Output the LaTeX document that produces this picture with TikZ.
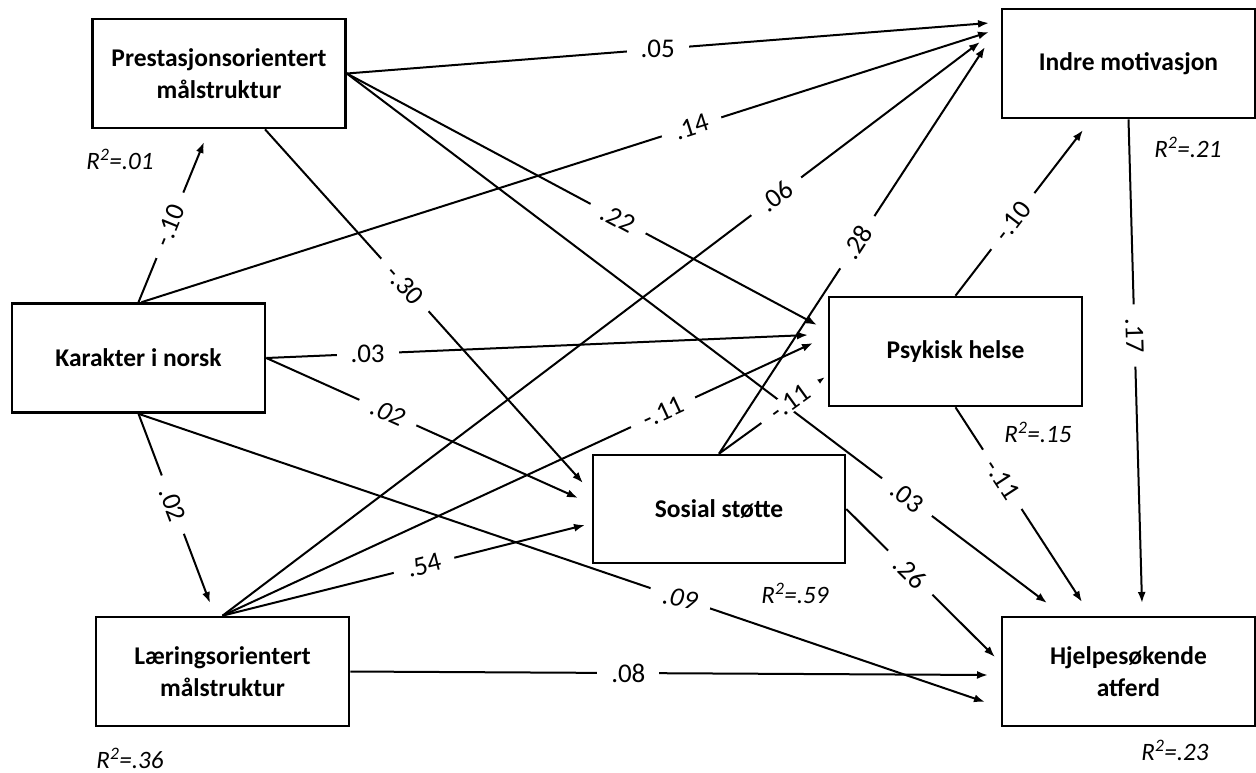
\documentclass[tikz,border=0pt]{standalone}
\usepackage{fontspec}
\setmainfont{Carlito}
\usetikzlibrary{arrows.meta}
\begin{document}
\begin{tikzpicture}[x=1pt,y=-1pt,
  box/.style={draw,line width=2.6pt,inner sep=0pt,align=center,
    font=\fontsize{25.5}{32}\selectfont\bfseries,
    minimum width=253pt,minimum height=109pt},
  conn/.style={line width=2pt,-{Latex[length=11pt,width=8pt]}},
  lbl/.style={fill=white,inner xsep=14pt,inner ysep=1pt,font=\fontsize{27}{30}\selectfont},
  lbli/.style={lbl,font=\fontsize{27}{30}\selectfont\itshape},
  rsq/.style={font=\fontsize{25}{28}\selectfont\itshape,inner sep=0pt}]
\fill[white] (0,0) rectangle (1256,772);
\useasboundingbox (0,0) rectangle (1256,772);

% boxes
\node[box] (prest) at (219,73.5) {Prestasjonsorientert\\målstruktur};
\node[box] (kar) at (138.5,358) {Karakter i norsk};
\node[box] (laer) at (222.5,671.5) {Læringsorientert\\målstruktur};
\node[box,minimum width=252pt,minimum height=108pt] (sos) at (719,509) {Sosial støtte};
\node[box] (psyk) at (955.5,351.5) {Psykisk helse};
\node[box] (indre) at (1128.5,63.5) {Indre motivasjon};
\node[box] (hjelp) at (1128.5,671.5) {Hjelpesøkende\\atferd};

% R^2 labels
\node[rsq] (r1) at (120,159) {R\textsuperscript{2}=.01};
\node[rsq] (r2) at (130,758) {R\textsuperscript{2}=.36};
\node[rsq] (r3) at (795,593) {R\textsuperscript{2}=.59};
\node[rsq] (r4) at (1038,432) {R\textsuperscript{2}=.15};
\node[rsq] (r5) at (1188,147) {R\textsuperscript{2}=.21};
\node[rsq] (r6) at (1175,750) {R\textsuperscript{2}=.23};

% free ends
\coordinate (pS) at ([xshift=46pt]prest.south);
\coordinate (iA) at (989,23);
\coordinate (iB) at (989,32);
\coordinate (iC) at (980,42);
\coordinate (iD) at (985,47);
\coordinate (iE) at (1083,130);
\coordinate (pA) at (817,325);
\coordinate (pB) at (808,335);
\coordinate (pC) at (813,343);
\coordinate (pD) at (825,377);
\coordinate (sA) at (583,483);
\coordinate (sB) at (578,498);
\coordinate (sC) at (585,525);
\coordinate (hA) at (1047,603);
\coordinate (hB) at (1082,602);
\coordinate (hC) at (1142,603);
\coordinate (hD) at (995,657);
\coordinate (hE) at (988,675);
\coordinate (hF) at (985,702);
\coordinate (prT) at (204,142);
\coordinate (lT) at (210,603);
\coordinate (kN) at ([xshift=3pt]kar.north);

% connectors
\draw[conn] (prest.east) -- (iA);
\draw[conn] (kN) -- (iB);
\draw[conn] (prest.east) -- (pA);
\draw[conn] (prest.east) -- (hA);
\draw[conn] (pS) -- (sA);
\draw[conn] (kar.north) -- (prT);
\draw[conn] (kar.east) -- (pB);
\draw[conn] (kar.east) -- (sB);
\draw[conn] (kar.south) -- (lT);
\draw[conn] (kar.south) -- (hF);
\draw[conn] (laer.north) -- (iC);
\draw[conn] (laer.north) -- (pC);
\draw[conn] (laer.north) -- (sC);
\draw[conn] (laer.east) -- (hE);
\draw[conn] (sos.north) -- (iD);
\draw[conn] (sos.north) -- (pD);
\draw[conn] (sos.east) -- (hD);
\draw[conn] (psyk.north) -- (iE);
\draw[conn] (psyk.south) -- (hB);
\draw[conn] (indre.south) -- (hC);

% coefficient labels
\path (prest.east) -- (iA) node[lbl,pos=0.484] (l1) {.05};
\path (kN) -- (iB) node[lbl,pos=0.649,sloped] (l2) {.14};
\path (prest.east) -- (pA) node[lbl,pos=0.577,sloped] (l3) {.22};
\path (prest.east) -- (hA) node[lbl,pos=0.80,sloped] (l4) {.03};
\path (pS) -- (sA) node[lbl,pos=0.44,sloped] (l5) {-.30};
\path (kar.north) -- (prT) node[lbl,pos=0.48,sloped] (l6) {-.10};
\path (kar.east) -- (pB) node[lbl,pos=0.187] (l7) {.03};
\path (kar.east) -- (sB) node[lbli,pos=0.39,sloped] (l8) {.02};
\path (kar.south) -- (lT) node[lbl,pos=0.48,sloped] (l9) {.02};
\path (kar.south) -- (hF) node[lbli,pos=0.64,rotate=-12] (l10) {.09};
\path (laer.north) -- (iC) node[lbl,pos=0.731,sloped] (l11) {.06};
\path (laer.north) -- (pC) node[lbl,pos=0.746,sloped] (l12) {-.11};
\path (laer.north) -- (sC) node[lbl,pos=0.556,sloped] (l13) {.54};
\path (laer.east) -- (hE) node[lbl,pos=0.436] (l14) {.08};
\path (sos.north) -- (iD) node[lbl,pos=0.52,sloped] (l15) {.28};
\path (sos.north) -- (pD) node[lbl,pos=0.67,sloped] (l16) {-.11};
\path (sos.east) -- (hD) node[lbl,pos=0.43,sloped] (l17) {.26};
\path (psyk.north) -- (iE) node[lbl,pos=0.45,sloped] (l18) {-.10};
\path (psyk.south) -- (hB) node[lbl,pos=0.37,sloped] (l19) {-.11};
\path (indre.south) -- (hC) node[lbl,pos=0.447,sloped] (l20) {.17};
\end{tikzpicture}
\end{document}
